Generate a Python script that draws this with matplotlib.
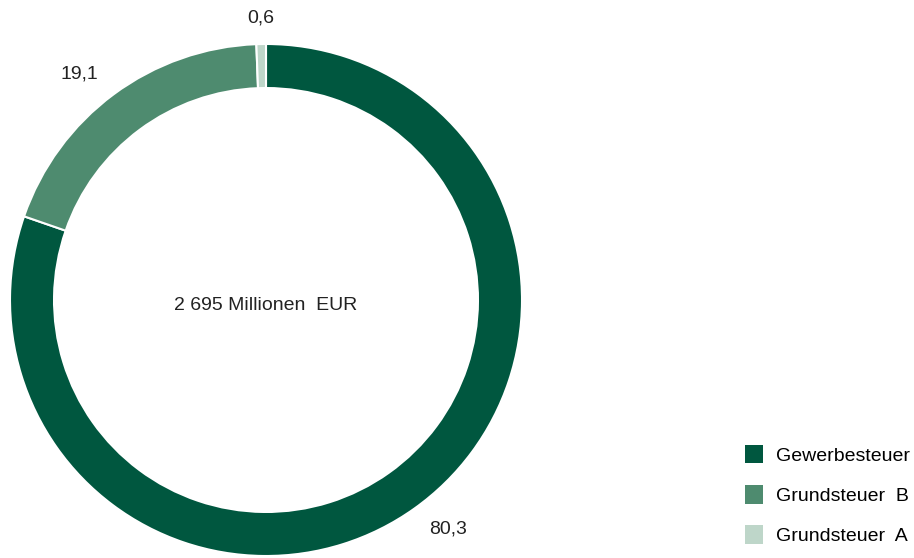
import matplotlib.pyplot as plt
from matplotlib.patches import Patch

plt.rcParams['font.family'] = ['Liberation Sans', 'DejaVu Sans']

categories = ['Gewerbesteuer', 'Grundsteuer  B', 'Grundsteuer  A']
values = [80.3, 19.1, 0.6]
value_labels = ['80,3', '19,1', '0,6']
colors = ['#00573f', '#4e8b6f', '#bed6c9']
center_text = '2 695 Millionen  EUR'


def main():
    fig = plt.figure(figsize=(9.14, 5.58), dpi=100)
    ax = fig.add_axes([10 / 914, 2 / 558, 512 / 914, 512 / 558])

    wedges, texts = ax.pie(values, labels=value_labels, colors=colors,
                           startangle=90, counterclock=False,
                           labeldistance=1.1,
                           wedgeprops=dict(width=0.172, edgecolor='white', linewidth=1.5),
                           textprops=dict(fontsize=14, color='#222222'))
    # the small slice sits right at the top, centre its label
    texts[2].set_ha('center')
    ax.set_xlim(-1, 1)
    ax.set_ylim(-1, 1)
    ax.set_aspect('auto')

    ax.text(0, -0.02, center_text, ha='center', va='center', fontsize=14, color='#222222')

    handles = [Patch(facecolor=c, edgecolor='none') for c in colors]
    fig.legend(handles, categories, loc='lower right', bbox_to_anchor=(1.0 + 9 / 914, 0.0),
               frameon=False, fontsize=14, handlelength=0.9, handleheight=1.1,
               labelspacing=1.05, handletextpad=0.7, borderaxespad=0.25)

    fig.savefig('out.png', dpi=100)


if __name__ == "__main__":
    main()
